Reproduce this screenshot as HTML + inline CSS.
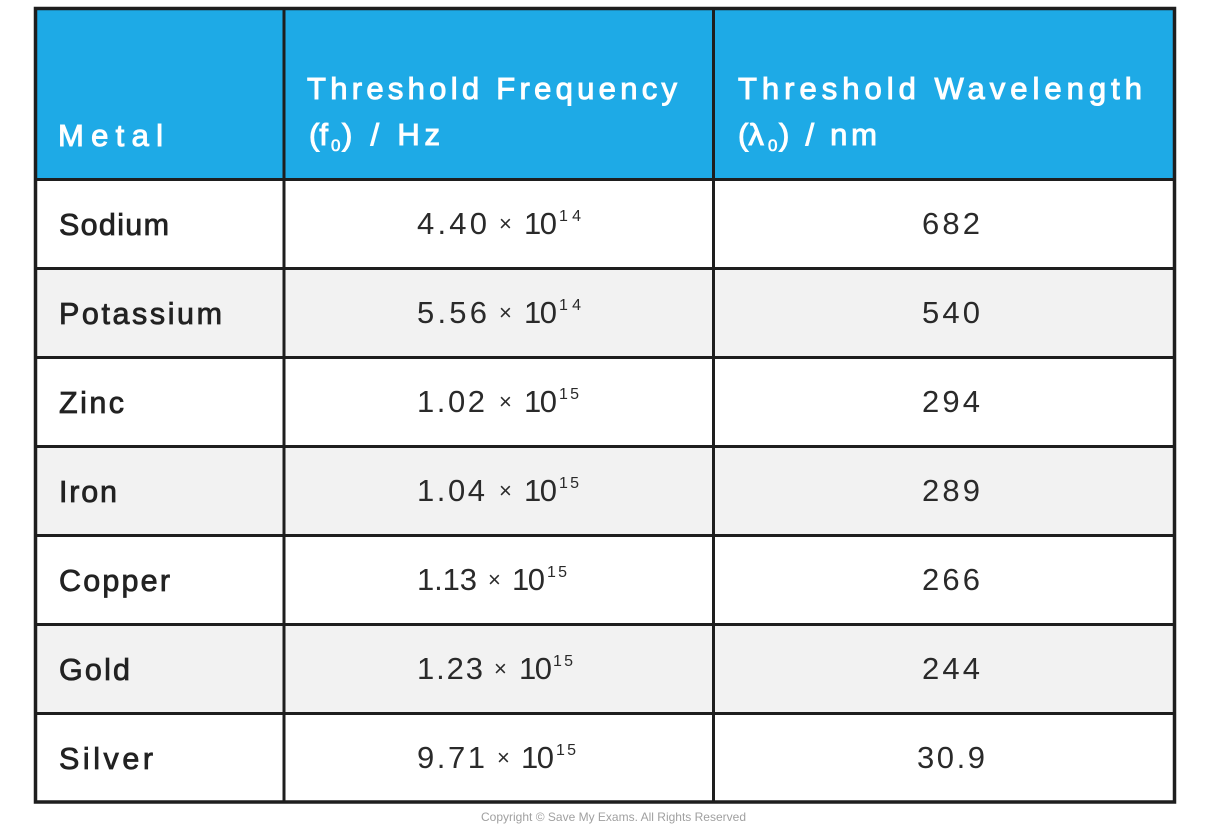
<!DOCTYPE html>
<html><head><meta charset="utf-8"><style>
html,body{margin:0;padding:0;background:#fff;}
svg{display:block;}
</style></head><body>
<svg width="1226" height="834" viewBox="0 0 1226 834" xmlns="http://www.w3.org/2000/svg">
<rect x="0" y="0" width="1226" height="834" fill="#ffffff"/>
<!-- header -->
<rect x="35" y="8" width="1140" height="172" fill="#1eaae6"/>
<!-- rows -->
<rect x="35" y="180" width="1140" height="88" fill="#ffffff"/>
<rect x="35" y="268" width="1140" height="89" fill="#f2f2f2"/>
<rect x="35" y="357" width="1140" height="89" fill="#ffffff"/>
<rect x="35" y="446" width="1140" height="89" fill="#f2f2f2"/>
<rect x="35" y="535" width="1140" height="89" fill="#ffffff"/>
<rect x="35" y="624" width="1140" height="89" fill="#f2f2f2"/>
<rect x="35" y="713" width="1140" height="89" fill="#ffffff"/>
<!-- grid -->
<g stroke="#1e1e1e" stroke-width="3" fill="none">
<line x1="35" y1="179.5" x2="1175" y2="179.5"/>
<line x1="35" y1="268.5" x2="1175" y2="268.5"/>
<line x1="35" y1="357.5" x2="1175" y2="357.5"/>
<line x1="35" y1="446.5" x2="1175" y2="446.5"/>
<line x1="35" y1="535.5" x2="1175" y2="535.5"/>
<line x1="35" y1="624.5" x2="1175" y2="624.5"/>
<line x1="35" y1="713.5" x2="1175" y2="713.5"/>
<line x1="284" y1="8" x2="284" y2="802"/>
<line x1="713.5" y1="8" x2="713.5" y2="802"/>
<rect x="35.5" y="8.5" width="1139" height="793.5" stroke-width="3.5"/>
</g>
<!-- header text -->
<g font-family="Liberation Sans, sans-serif" font-size="31" fill="#ffffff" stroke="#ffffff" stroke-width="1">
<text x="58" y="146" textLength="105" lengthAdjust="spacing">Metal</text>
<text x="307" y="99" textLength="370" lengthAdjust="spacing">Threshold Frequency</text>
<text x="309" y="145">(f</text>
<text x="331" y="151" font-size="17" stroke-width="0.6">0</text>
<text x="342" y="145" textLength="98" lengthAdjust="spacing">) / Hz</text>
<text x="738" y="99" textLength="404" lengthAdjust="spacing">Threshold Wavelength</text>
<text x="738" y="145">(λ</text>
<text x="768" y="151" font-size="17" stroke-width="0.6">0</text>
<text x="779" y="145" textLength="98" lengthAdjust="spacing">) / nm</text>
</g>
<!-- metal names -->
<g font-family="Liberation Sans, sans-serif" font-size="30.5" fill="#222222" stroke="#222222" stroke-width="0.8">
<text x="59" y="235" textLength="110" lengthAdjust="spacing">Sodium</text>
<text x="59" y="324" textLength="163" lengthAdjust="spacing">Potassium</text>
<text x="59" y="413" textLength="65" lengthAdjust="spacing">Zinc</text>
<text x="59" y="502" textLength="58" lengthAdjust="spacing">Iron</text>
<text x="59" y="591" textLength="111" lengthAdjust="spacing">Copper</text>
<text x="59" y="680" textLength="71" lengthAdjust="spacing">Gold</text>
<text x="59" y="769" textLength="94" lengthAdjust="spacing">Silver</text>
</g>
<!-- frequency values -->
<g font-family="Liberation Sans, sans-serif" font-size="31" fill="#2a2a2a">
<text x="417" y="234" textLength="70" lengthAdjust="spacing">4.40</text>
<text x="499" y="231" font-size="22">×</text>
<text x="524" y="234" textLength="33" lengthAdjust="spacing">10</text>
<text x="559" y="221" font-size="16" textLength="22" lengthAdjust="spacing">14</text>

<text x="417" y="323" textLength="70" lengthAdjust="spacing">5.56</text>
<text x="499" y="320" font-size="22">×</text>
<text x="524" y="323" textLength="33" lengthAdjust="spacing">10</text>
<text x="559" y="310" font-size="16" textLength="22" lengthAdjust="spacing">14</text>

<text x="417" y="412" textLength="68" lengthAdjust="spacing">1.02</text>
<text x="499" y="409" font-size="22">×</text>
<text x="524" y="412" textLength="33" lengthAdjust="spacing">10</text>
<text x="559" y="399" font-size="16" textLength="20" lengthAdjust="spacing">15</text>

<text x="417" y="501" textLength="68" lengthAdjust="spacing">1.04</text>
<text x="499" y="498" font-size="22">×</text>
<text x="524" y="501" textLength="33" lengthAdjust="spacing">10</text>
<text x="559" y="488" font-size="16" textLength="20" lengthAdjust="spacing">15</text>

<text x="417" y="590" textLength="60" lengthAdjust="spacing">1.13</text>
<text x="488" y="587" font-size="22">×</text>
<text x="512" y="590" textLength="33" lengthAdjust="spacing">10</text>
<text x="547" y="577" font-size="16" textLength="20" lengthAdjust="spacing">15</text>

<text x="417" y="679" textLength="66" lengthAdjust="spacing">1.23</text>
<text x="494" y="676" font-size="22">×</text>
<text x="519" y="679" textLength="33" lengthAdjust="spacing">10</text>
<text x="553" y="666" font-size="16" textLength="20" lengthAdjust="spacing">15</text>

<text x="417" y="768" textLength="68" lengthAdjust="spacing">9.71</text>
<text x="497" y="765" font-size="22">×</text>
<text x="521" y="768" textLength="33" lengthAdjust="spacing">10</text>
<text x="556" y="755" font-size="16" textLength="20" lengthAdjust="spacing">15</text>
</g>
<!-- wavelength values -->
<g font-family="Liberation Sans, sans-serif" font-size="31" fill="#2a2a2a">
<text x="922" y="234" textLength="58" lengthAdjust="spacing">682</text>
<text x="922" y="323" textLength="58" lengthAdjust="spacing">540</text>
<text x="922" y="412" textLength="58" lengthAdjust="spacing">294</text>
<text x="922" y="501" textLength="58" lengthAdjust="spacing">289</text>
<text x="922" y="590" textLength="58" lengthAdjust="spacing">266</text>
<text x="922" y="679" textLength="58" lengthAdjust="spacing">244</text>
<text x="917" y="768" textLength="68" lengthAdjust="spacing">30.9</text>
</g>
<text x="481" y="821" font-family="Liberation Sans, sans-serif" font-size="12" fill="#a0a0a0" textLength="265" lengthAdjust="spacingAndGlyphs">Copyright © Save My Exams. All Rights Reserved</text>
</svg>
</body></html>
